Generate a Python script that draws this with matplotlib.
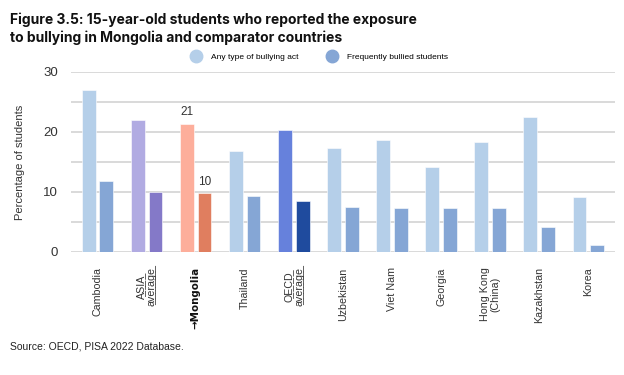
import matplotlib
matplotlib.use("Agg")
import matplotlib.pyplot as plt
from matplotlib.lines import Line2D
import numpy as np

categories = ["Cambodia", "ASIA\naverage", "→Mongolia", "Thailand", "OECD\naverage",
              "Uzbekistan", "Viet Nam", "Georgia", "Hong Kong\n(China)", "Kazakhstan", "Korea"]
any_bullying = [27.0, 22.0, 21.4, 16.9, 20.3, 17.3, 18.6, 14.1, 18.4, 22.5, 9.2]
frequent = [11.9, 10.0, 9.8, 9.3, 8.5, 7.5, 7.4, 7.3, 7.3, 4.2, 1.2]
yticks = [0, 10, 20, 30]

light_cols = ["#B5CFE9"] * 11
dark_cols = ["#85A6D5"] * 11
light_cols[1], dark_cols[1] = "#B1ABE2", "#8479C8"
light_cols[2], dark_cols[2] = "#FDAE9B", "#E07E5F"
light_cols[4], dark_cols[4] = "#6681DC", "#1F4B9E"

plt.rcParams['font.family'] = ['Liberation Sans', 'DejaVu Sans']

fig = plt.figure(figsize=(6.24, 3.75), dpi=100)
ax = fig.add_axes([0.113, 0.328, 0.873, 0.48])

x = np.arange(len(categories))
w = 0.28
off = 0.18
ax.bar(x - off, any_bullying, width=w, color=light_cols, edgecolor="white", linewidth=0.4, zorder=3)
ax.bar(x + off, frequent, width=w, color=dark_cols, edgecolor="white", linewidth=0.4, zorder=3)

ax.text(2 - off, any_bullying[2] + 0.9, f"{round(any_bullying[2])}", ha="center", va="bottom",
        fontsize=8.5, color="#333333")
ax.text(2 + off, frequent[2] + 0.9, f"{round(frequent[2])}", ha="center", va="bottom",
        fontsize=8.5, color="#333333")

ax.set_xlim(-0.55, len(categories) - 0.45)
ax.set_ylim(0, 30)
ax.set_yticks(yticks)
ax.set_yticks(np.arange(0, 31, 5), minor=True)
ax.yaxis.grid(True, which="both", color="#D9D9D9", linewidth=1.4, zorder=0)
ax.tick_params(axis="y", which="both", length=0, labelsize=9.5, colors="#333333", pad=9)
for s in ax.spines.values():
    s.set_visible(False)
ax.set_ylabel("Percentage of students", fontsize=8, color="#333333", labelpad=13)

ax.set_xticks(x)
labels = []
for c in categories:
    if c in ("ASIA\naverage", "OECD\naverage"):
        c = "\n".join("".join(ch + "\u0332" for ch in line) for line in c.split("\n"))
    labels.append(c)
ax.set_xticklabels(labels, rotation=90, fontsize=7.7, color="#333333", va="top", ha="center",
                   linespacing=1.1)
ax.tick_params(axis="x", length=0, pad=11)
for t in ax.get_xticklabels():
    if "Mongolia" in t.get_text():
        t.set_fontweight("bold")
        t.set_family(["DejaVu Sans"])
        t.set_fontsize(7.4)
        t.set_color("#111111")

handles = [Line2D([], [], marker="o", linestyle="none", markersize=9, color="#B5CFE9"),
           Line2D([], [], marker="o", linestyle="none", markersize=9, color="#85A6D5")]
fig.legend(handles, ["Any type of bullying act", "Frequently bullied students"],
           loc="center", bbox_to_anchor=(0.51, 0.848), ncol=2, frameon=False, fontsize=6,
           handletextpad=0.8, columnspacing=3)

fig.text(0.016, 0.967, "Figure 3.5: 15-year-old students who reported the exposure\nto bullying in Mongolia and comparator countries",
         fontsize=10, fontweight="bold", family=["Inter", "DejaVu Sans"], va="top", ha="left",
         color="#111111", linespacing=1.35)
fig.text(0.016, 0.075, "Source: OECD, PISA 2022 Database.", fontsize=7.5, color="#222222",
         va="center", ha="left")

fig.savefig("out.png", dpi=100)
